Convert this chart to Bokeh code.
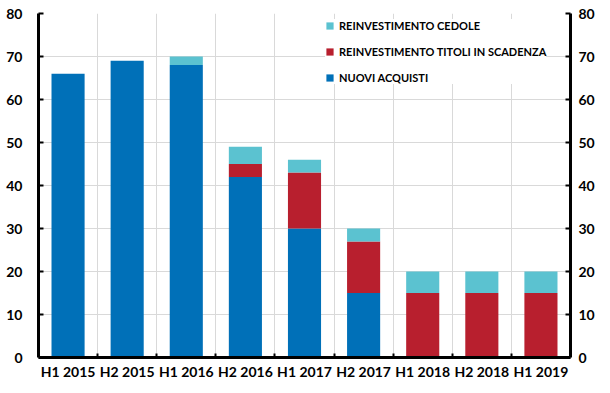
from bokeh.plotting import figure
from bokeh.models import (LinearAxis, Range1d, FixedTicker, Legend, LegendItem,
                          ColumnDataSource)
from bokeh.embed import file_html
from bokeh.resources import INLINE

# ---- data ----
categories = ["H1 2015", "H2 2015", "H1 2016", "H2 2016", "H1 2017",
              "H2 2017", "H1 2018", "H2 2018", "H1 2019"]
nuovi_acquisti = [66, 69, 68, 42, 30, 15, 0, 0, 0]
reinv_titoli = [0, 0, 0, 3, 13, 12, 15, 15, 15]
reinv_cedole = [0, 0, 2, 4, 3, 3, 5, 5, 5]
y_ticks = [0, 10, 20, 30, 40, 50, 60, 70, 80]
series_labels = ["NUOVI ACQUISTI", "REINVESTIMENTO TITOLI IN SCADENZA",
                 "REINVESTIMENTO CEDOLE"]
colors = ["#0070B8", "#B81F2E", "#5BC2D0"]

FONT = "Lato"

n = len(categories)
xpos = [i + 0.5 for i in range(n)]
bounds = [i for i in range(1, n)]

src = ColumnDataSource(dict(x=xpos, cat=categories, nuovi=nuovi_acquisti,
                            titoli=reinv_titoli, cedole=reinv_cedole))

p = figure(width=610, height=393, x_range=Range1d(0, n), y_range=Range1d(0, 80),
           output_backend="svg", toolbar_location=None,
           min_border_left=38, min_border_right=40, min_border_top=13,
           min_border_bottom=36)
p.outline_line_color = None
p.background_fill_color = "white"

renderers = p.vbar_stack(["nuovi", "titoli", "cedole"], x="x", width=0.56,
                         source=src, color=colors, line_color=None)

# grids
p.ygrid.ticker = FixedTicker(ticks=y_ticks)
p.ygrid.grid_line_color = "#D9D9D9"
p.xgrid.ticker = FixedTicker(ticks=bounds)
p.xgrid.grid_line_color = "#D9D9D9"

# x axis
xa = p.xaxis[0]
xa.ticker = FixedTicker(ticks=xpos, minor_ticks=bounds)
xa.major_label_overrides = {x: c for x, c in zip(xpos, categories)}
xa.axis_line_width = 3
xa.axis_line_color = "black"
xa.major_tick_in = 0
xa.major_tick_out = 0
xa.minor_tick_in = 4
xa.minor_tick_out = 0
xa.minor_tick_line_width = 2
xa.minor_tick_line_color = "black"
xa.major_label_standoff = 5
xa.major_label_text_font = FONT
xa.major_label_text_font_style = "bold"
xa.major_label_text_font_size = "14px"
xa.major_label_text_color = "black"


def style_y(ax, standoff):
    ax.ticker = FixedTicker(ticks=y_ticks)
    ax.axis_line_width = 3
    ax.axis_line_color = "black"
    ax.major_tick_in = 5
    ax.major_tick_out = 0
    ax.major_tick_line_width = 2
    ax.major_tick_line_color = "black"
    ax.minor_tick_in = 0
    ax.minor_tick_out = 0
    ax.major_label_standoff = standoff
    ax.major_label_text_font = FONT
    ax.major_label_text_font_style = "bold"
    ax.major_label_text_font_size = "14px"
    ax.major_label_text_color = "black"


style_y(p.yaxis[0], 16)
ra = LinearAxis()
style_y(ra, 8)
p.add_layout(ra, "right")

# legend
items = [LegendItem(label=series_labels[2], renderers=[renderers[2]]),
         LegendItem(label=series_labels[1], renderers=[renderers[1]]),
         LegendItem(label=series_labels[0], renderers=[renderers[0]])]
legend = Legend(items=items, location=(287, 273))
legend.glyph_width = 9
legend.glyph_height = 9
legend.label_height = 9
legend.label_standoff = 5
legend.spacing = 13
legend.padding = 6
legend.margin = 0
legend.border_line_color = None
legend.background_fill_color = "white"
legend.background_fill_alpha = 1
legend.label_text_font = FONT
legend.label_text_font_style = "bold"
legend.label_text_font_size = "11px"
legend.label_text_color = "black"
p.add_layout(legend)

open("out.html", "w").write(file_html(p, INLINE))
